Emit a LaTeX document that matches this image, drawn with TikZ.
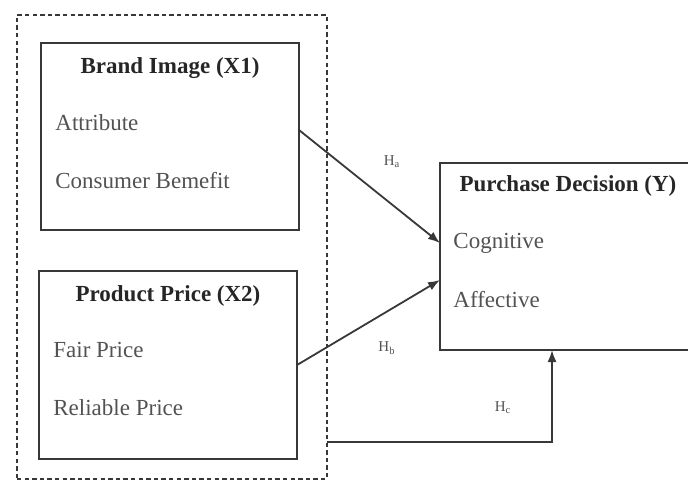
\documentclass[tikz,border=0pt]{standalone}
\usepackage{fontspec}
\setmainfont{Liberation Serif}
\usetikzlibrary{arrows.meta}
\colorlet{boxBorder}{black!78}
\colorlet{itemText}{black!68}
\tikzset{
boxstyle/.style={rectangle, draw=boxBorder, line width=1pt, inner sep=0pt, outer sep=0pt},
groupstyle/.style={rectangle, draw=boxBorder, line width=1pt, dash pattern=on 2.2pt off 1.6pt, inner sep=0pt, outer sep=0pt},
titlestyle/.style={inner sep=0pt, font=\fontsize{11.5}{13}\selectfont\bfseries, text=black!85},
itemstyle/.style={anchor=west, inner sep=0pt, font=\fontsize{11.5}{13}\selectfont, text=itemText},
hypstyle/.style={inner sep=0pt, font=\fontsize{7.5}{8}\selectfont, text=itemText},
arrowstyle/.style={draw=boxBorder, line width=0.9pt, -{Latex[length=6pt,width=4.5pt]}}
}
\newcommand{\indicator}[4]{
  \node [itemstyle] (#1) at (#2,#3) {#4};
}

\begin{document}
\begin{tikzpicture}[x=0.5pt,y=-0.5pt]
\useasboundingbox (0,0) rectangle (688,482);

\node [groupstyle, minimum width=155pt, minimum height=232pt] (group) at (172,247) {};

\node [boxstyle, minimum width=129pt, minimum height=93.5pt] (brand) at (170,136.5) {};
\node [titlestyle] (brandTitle) at (170,68) {Brand Image (X1)};
\indicator{attribute}{55}{123}{Attribute}
\indicator{benefit}{55}{181}{Consumer Bemefit}

\node [boxstyle, minimum width=129pt, minimum height=94pt] (price) at (168,365) {};
\node [titlestyle] (priceTitle) at (168,296) {Product Price (X2)};
\indicator{fair}{53}{350}{Fair Price}
\indicator{reliable}{53}{408}{Reliable Price}

\node [boxstyle, minimum width=124.5pt, minimum height=93.5pt] (purchase) at (564.5,256.5) {};
\node [titlestyle] (purchaseTitle) at (568,186) {Purchase Decision (Y)};
\indicator{cog}{453}{243}{Cognitive}
\indicator{aff}{453}{300}{Affective}

\draw [arrowstyle] ([yshift=3.25pt]brand.east) -- (purchase.west |- cog);
\draw [arrowstyle] (price.east) -- ([yshift=-11.75pt]purchase.west);
\draw [arrowstyle] ([yshift=-97.5pt]group.east) -| ([xshift=-6.25pt]purchase.south);

\node [hypstyle] (ha) at (392,162) {H$_{\mathrm{a}}$};
\node [hypstyle] (hb) at (387,348) {H$_{\mathrm{b}}$};
\node [hypstyle] (hc) at (503,408) {H$_{\mathrm{c}}$};

\end{tikzpicture}
\end{document}
